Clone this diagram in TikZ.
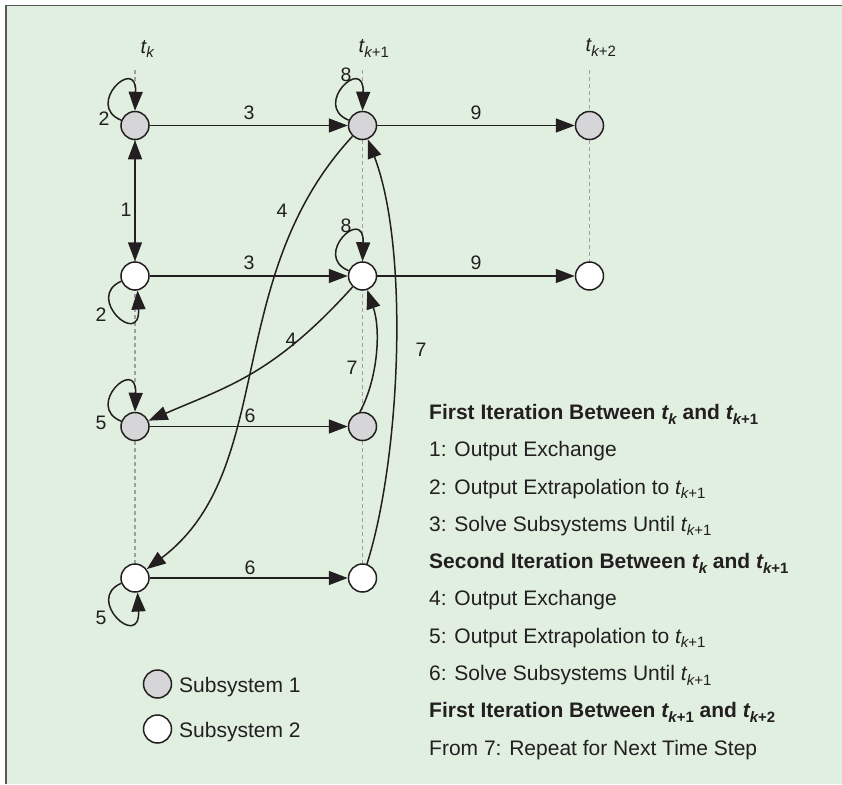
\documentclass[tikz,border=0pt]{standalone}
\usepackage{fontspec}
\setmainfont{Liberation Sans}
\usetikzlibrary{arrows.meta}
\definecolor{bgfill}{HTML}{E0EFDF}
\definecolor{nodegray}{HTML}{D6D6D8}
\definecolor{ink}{HTML}{231F20}
\definecolor{guidegray}{HTML}{9D9FA2}
\definecolor{framegray}{HTML}{58595B}
% t with subscript k (plus an optional offset such as +1)
\newcommand{\tk}[1]{{\itshape t}\raisebox{-4.5pt}{\fontsize{15pt}{15pt}\selectfont{\itshape k}#1}}

\begin{document}
\begin{tikzpicture}[x=1pt,y=-1pt,
  sub1/.style={circle,draw=ink,line width=1.5pt,fill=nodegray,minimum size=28pt,inner sep=0pt},
  sub2/.style={sub1,fill=white},
  arr/.style={draw=ink,line width=1.5pt,-{Triangle[length=19pt,width=14pt]}},
  darr/.style={draw=ink,line width=1.5pt,{Triangle[length=19pt,width=14pt]}-{Triangle[length=19pt,width=14pt]}},
  guideline/.style={draw=guidegray,line width=1.7pt,dash pattern=on 4pt off 3pt},
  num/.style={text=ink,font=\fontsize{19.5pt}{19.5pt}\selectfont,inner sep=0pt},
  txt/.style={text=ink,font=\fontsize{21pt}{21pt}\selectfont,anchor=base west,inner sep=0pt},
  tlab/.style={text=ink,font=\fontsize{20pt}{20pt}\selectfont,anchor=base west,inner sep=0pt}
]
\useasboundingbox (0,0) rectangle (842,784);
\fill[white] (0,0) rectangle (842,784);
\fill[bgfill] (5,5) rectangle (842,784);
\draw[framegray,line width=2pt] (6,784) -- (6,5.6);
\draw[framegray,line width=1.3pt] (5,5.6) -- (842,5.6);

% time axes
\draw[guideline] (135,70) -- (135,578);
\draw[guideline] (362.5,70) -- (362.5,578);
\draw[guideline] (589.5,70) -- (589.5,276);
\node[tlab] (tk0) at (140.5,53) {\tk{}};
\node[tlab] (tk1) at (358.5,52.7) {\tk{+1}};
\node[tlab] (tk2) at (585.5,51.7) {\tk{+2}};

% subsystem states
\node[sub1] (a1) at (135,125.5) {};
\node[sub2] (a2) at (135,276) {};
\node[sub1] (a3) at (135,426.5) {};
\node[sub2] (a4) at (135,578) {};
\node[sub1] (b1) at (362.5,125.5) {};
\node[sub2] (b2) at (362.5,276) {};
\node[sub1] (b3) at (362.5,426.5) {};
\node[sub2] (b4) at (362.5,578) {};
\node[sub1] (c1) at (589.5,125.5) {};
\node[sub2] (c2) at (589.5,276) {};

% first iteration
\draw[darr] (a1) -- (a2);
\draw[arr] (a1.159) .. controls +(-37,-15) and +(2,-56) .. (a1.north);
\draw[arr] (a2.201) .. controls +(-37,16) and +(3,58) .. (a2.-80);
\draw[arr] (a1) -- (b1);
\draw[arr] (a2) -- (b2);

% second iteration
\draw[arr] (b1) .. controls (221,278) and (278,470) .. (a4);
\draw[arr] (b2) .. controls (274,374) and (229,386) .. (a3);
\draw[arr] (a3.159) .. controls +(-37,-15) and +(2,-56) .. (a3.north);
\draw[arr] (a4.201) .. controls +(-37,16) and +(3,58) .. (a4.-80);
\draw[arr] (a3) -- (b3);
\draw[arr] (a4) -- (b4);

% next time step
\draw[arr] (b4) .. controls (400,460) and (410,250) .. (b1);
\draw[arr] (b3.100) .. controls (378,378) and (381,330) .. (b2);
\draw[arr] (b1.159) .. controls +(-37,-15) and +(2,-56) .. (b1.north);
\draw[arr] (b2.159) .. controls +(-37,-15) and +(2,-56) .. (b2.north);
\draw[arr] (b1) -- (c1);
\draw[arr] (b2) -- (c2);

% step numbers
\node[num] at (104,118.5) {2};
\node[num] at (126,210) {1};
\node[num] at (249,113) {3};
\node[num] at (249,263) {3};
\node[num] at (101,314.5) {2};
\node[num] at (282,211) {4};
\node[num] at (291,340) {4};
\node[num] at (101,422.5) {5};
\node[num] at (101,617.5) {5};
\node[num] at (250,415.5) {6};
\node[num] at (250,567.5) {6};
\node[num] at (352,368) {7};
\node[num] at (421,350) {7};
\node[num] at (346,75) {8};
\node[num] at (346,225.5) {8};
\node[num] at (476,113) {9};
\node[num] at (476,263) {9};

% legend
\node[sub1] (l1) at (157.5,684) {};
\node[txt] (l1t) at (179,692) {Subsystem 1};
\node[sub2] (l2) at (157.5,729) {};
\node[txt] (l2t) at (179,737) {Subsystem 2};

% step descriptions
\node[txt] (d0) at (429,419.5) {\bfseries First Iteration Between \tk{} and \tk{+1}};
\node[txt] (d1) at (429,456.8) {1: Output Exchange};
\node[txt] (d2) at (429,494.1) {2: Output Extrapolation to \tk{+1}};
\node[txt] (d3) at (429,531.3) {3: Solve Subsystems Until \tk{+1}};
\node[txt] (d4) at (429,568.6) {\bfseries Second Iteration Between \tk{} and \tk{+1}};
\node[txt] (d5) at (429,605.9) {4: Output Exchange};
\node[txt] (d6) at (429,643.2) {5: Output Extrapolation to \tk{+1}};
\node[txt] (d7) at (429,680.5) {6: Solve Subsystems Until \tk{+1}};
\node[txt] (d8) at (429,717.7) {\bfseries First Iteration Between \tk{+1} and \tk{+2}};
\node[txt] (d9) at (429,755) {From 7: Repeat for Next Time Step};
\end{tikzpicture}
\end{document}
